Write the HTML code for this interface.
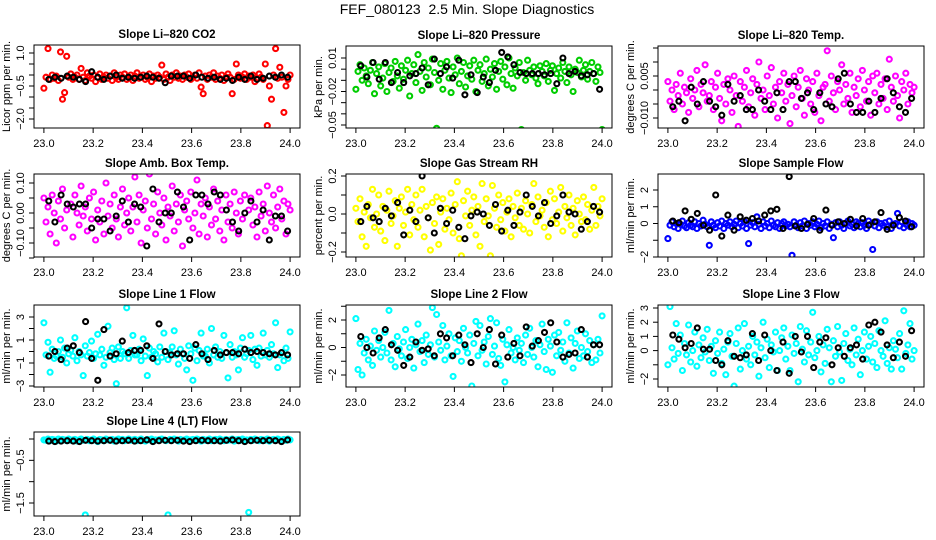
<!DOCTYPE html>
<html><head><meta charset="utf-8"><style>
html,body{margin:0;padding:0;background:#fff;}
svg{display:block;font-family:"Liberation Sans",sans-serif;}
</style></head><body>
<svg id="chart" width="936" height="540" viewBox="0 0 936 540" xmlns="http://www.w3.org/2000/svg">
<rect width="936" height="540" fill="#fff"/>
<text x="467" y="14" text-anchor="middle" font-size="14">FEF_080123&#160;&#160;2.5 Min. Slope Diagnostics</text>
</svg>
<script>
const co2Vals=[-0.6,-0.1,1.2,-0.2,0.0,-0.15,-0.05,-0.25,1.05,-1.1,-0.8,0.85,-0.1,0.05,-0.2,-0.1,0.0,-0.2,0.3,-0.1,-0.25,0.1,-0.05,-0.15,0.0,-0.3,-0.1,0.05,-0.2,-0.1,0.0,-0.15,-0.05,-0.25,0.1,-0.1,-0.2,0.0,-0.1,0.05,-0.2,-0.1,0.0,-0.25,-0.05,0.1,-0.15,-0.1,0.0,-0.2,-0.1,0.05,-0.3,-0.05,-0.15,0.0,-0.1,0.45,-0.2,0.05,-0.1,-0.25,0.0,-0.1,0.1,-0.15,-0.05,-0.2,0.0,-0.1,0.05,-0.2,-0.1,0.0,-0.15,0.1,-0.55,-0.85,-0.05,-0.2,0.0,-0.1,0.1,-0.2,-0.05,-0.15,0.0,-0.25,-0.1,0.05,-0.1,-0.85,-0.2,0.5,0.0,-0.15,-0.1,0.05,-0.2,-0.05,-0.1,0.0,-0.3,-0.15,0.05,-0.1,-0.2,0.5,-2.3,-0.5,-1.1,0.0,1.2,-0.15,0.35,-0.1,-1.7,-0.5,-0.2,0.0];
const co2Ref=[-0.2,-0.1,-0.15,-0.05,-0.1,-0.2,-0.3,0.15,-0.1,-0.2,-0.05,0.0,-0.15,-0.1,-0.15,-0.1,-0.05,-0.1,-0.15,-0.35,-0.05,-0.05,-0.05,-0.15,0.0,-0.1,-0.15,-0.1,-0.2,-0.15,-0.25,-0.1,-0.2,-0.05,-0.2,-0.15,-0.05,-0.1,0.0,-0.1];
const presVals=[-0.018,-0.002,0.004,-0.010,0.001,-0.006,-0.013,-0.001,0.006,-0.022,-0.004,0.002,-0.015,-0.008,0.005,-0.020,-0.003,0.001,-0.011,0.007,-0.006,-0.017,0.003,-0.009,-0.001,0.008,-0.024,-0.004,0.004,-0.012,0.013,-0.002,-0.019,0.006,-0.007,0.001,-0.014,0.009,-0.003,-0.053,-0.010,0.005,-0.018,-0.001,0.007,-0.008,-0.021,0.002,-0.005,0.010,-0.013,-0.002,0.006,-0.016,-0.006,0.003,-0.009,0.008,-0.020,-0.001,0.004,-0.011,-0.004,0.009,-0.015,0.000,-0.007,0.005,-0.018,-0.002,0.007,-0.009,0.002,-0.014,0.010,-0.004,-0.017,0.001,-0.006,0.006,-0.054,-0.003,-0.010,0.008,-0.001,-0.005,0.002,-0.008,-0.013,0.003,-0.002,-0.006,0.005,-0.011,-0.001,0.003,-0.019,-0.004,0.001,-0.008,0.006,-0.002,-0.012,0.002,-0.005,-0.020,0.000,-0.003,0.008,-0.007,-0.001,0.004,-0.009,-0.002,0.006,-0.004,-0.011,0.002,-0.003,-0.054];
const presRef=[0.003,-0.007,0.006,-0.009,0.006,-0.012,-0.003,-0.012,-0.006,-0.004,0.001,-0.014,0.009,-0.004,0.002,-0.008,0.008,-0.023,-0.005,-0.021,-0.007,-0.012,-0.001,0.015,0.011,0.004,-0.003,-0.004,-0.004,-0.004,-0.005,-0.004,-0.013,0.010,-0.004,-0.002,-0.006,-0.005,-0.004,-0.018];
const tempVals=[0.003,-0.004,0.000,-0.007,0.002,-0.002,0.006,-0.005,0.001,-0.001,-0.008,0.004,-0.003,0.000,0.007,-0.006,0.002,-0.001,0.009,-0.004,-0.002,0.003,-0.007,0.001,0.006,-0.003,-0.011,0.002,-0.005,0.004,0.000,-0.008,0.005,-0.002,-0.013,0.003,-0.004,0.001,0.007,-0.006,-0.001,0.004,-0.009,0.002,0.010,-0.003,0.000,-0.007,0.005,-0.002,0.008,-0.005,0.001,-0.010,0.003,-0.001,0.006,-0.004,0.002,-0.012,-0.002,0.005,-0.006,0.001,0.007,-0.003,-0.009,0.004,0.000,-0.005,0.003,-0.008,0.006,-0.002,-0.011,0.001,0.002,0.014,-0.004,0.005,-0.001,-0.007,0.003,0.000,0.009,-0.005,0.002,-0.003,0.006,-0.008,0.001,-0.002,0.004,-0.006,0.007,0.000,-0.004,0.003,-0.009,0.005,-0.001,0.006,-0.005,0.002,-0.003,0.004,-0.007,0.011,0.001,-0.004,0.005,-0.002,-0.010,0.003,0.000,0.006,-0.005,0.002,-0.001,0.001];
const tempRef=[-0.006,-0.004,-0.011,0.001,-0.005,0.003,-0.004,-0.006,-0.009,0.002,-0.004,-0.002,-0.007,-0.007,0.000,-0.004,-0.007,-0.001,-0.007,0.003,0.003,-0.003,-0.001,-0.007,-0.001,-0.005,-0.006,0.004,0.006,-0.005,-0.008,-0.008,-0.004,-0.008,-0.003,0.004,-0.001,-0.006,-0.008,-0.003];
const boxVals=[0.05,-0.03,0.02,-0.07,0.06,0.00,-0.10,0.04,-0.02,0.08,-0.05,0.01,-0.16,0.03,-0.08,0.06,0.00,-0.04,0.09,-0.01,0.02,-0.06,0.05,-0.02,0.07,-0.09,0.01,-0.03,0.04,-0.07,0.10,-0.01,0.03,-0.05,0.06,-0.02,-0.08,0.02,0.08,-0.04,0.00,0.05,-0.06,0.02,0.12,-0.03,0.06,-0.10,0.01,0.04,-0.05,0.13,-0.02,0.03,-0.07,0.07,0.00,-0.04,0.05,-0.09,0.02,-0.01,0.09,-0.06,0.03,-0.03,0.06,-0.11,0.01,0.04,-0.02,0.07,-0.05,0.00,0.11,-0.07,0.03,-0.01,0.05,-0.08,0.02,-0.04,0.08,-0.02,0.04,-0.06,0.01,-0.09,0.06,-0.03,0.03,-0.05,0.07,0.00,-0.07,0.04,-0.02,0.06,-0.16,0.01,0.05,-0.04,0.02,-0.08,0.07,-0.01,0.03,-0.06,0.09,0.00,-0.03,0.06,-0.05,0.02,0.08,-0.02,0.04,-0.07,0.03,0.01];
const boxRef=[0.04,-0.03,0.06,0.03,0.02,0.03,0.03,-0.05,-0.02,-0.02,-0.06,-0.01,0.04,-0.03,0.03,0.02,-0.11,0.08,-0.03,0.00,0.00,0.07,0.02,-0.09,0.06,0.06,0.03,0.07,0.06,0.01,-0.03,-0.06,0.00,0.04,-0.03,0.01,-0.09,-0.01,-0.01,-0.06];
const rhVals=[0.03,-0.04,0.08,-0.12,0.01,-0.17,0.05,-0.02,0.13,-0.07,0.00,0.10,-0.09,0.04,-0.14,0.02,0.12,-0.05,-0.01,0.07,-0.17,0.03,0.09,-0.06,0.01,0.13,-0.11,0.05,-0.03,0.10,-0.07,0.02,0.13,-0.12,0.04,-0.02,-0.19,0.06,-0.05,0.09,-0.16,0.01,0.08,-0.08,0.03,-0.03,0.11,-0.10,0.05,0.17,-0.13,-0.22,0.07,-0.01,0.12,-0.06,0.02,0.09,-0.11,0.04,-0.17,0.16,-0.04,0.08,-0.01,-0.22,0.15,0.03,-0.07,0.10,-0.03,0.06,-0.09,0.01,0.08,-0.12,0.04,-0.02,0.11,-0.06,0.03,-0.08,0.07,0.00,-0.10,0.05,0.16,-0.04,0.09,-0.01,0.02,-0.07,0.06,-0.12,0.12,-0.03,0.08,-0.05,0.01,0.14,-0.09,0.04,-0.02,0.10,-0.06,0.03,-0.11,0.07,0.00,-0.04,0.09,-0.03,0.05,-0.08,0.02,0.14,-0.06,0.04,-0.01,0.08];
const rhRef=[-0.04,0.04,-0.02,-0.04,0.03,-0.01,0.06,-0.11,0.02,-0.04,0.20,-0.02,-0.10,0.03,-0.05,0.02,-0.07,-0.13,-0.01,0.01,0.00,-0.06,0.05,-0.09,0.02,-0.06,0.01,0.10,0.04,-0.01,0.06,-0.05,-0.01,0.10,0.01,0.00,-0.08,-0.04,0.04,0.01];
const sampVals=[-0.9,-0.1,0.1,-0.2,0.0,-0.3,-0.05,0.15,-0.15,-0.25,0.05,-0.1,-0.2,0.1,-0.3,0.0,-0.15,0.2,-0.05,-0.2,-1.3,0.1,-0.1,-0.25,0.05,-0.15,0.15,-0.3,0.0,-0.1,0.1,-0.2,-0.05,0.15,-0.25,0.0,-0.15,0.1,-0.3,-1.2,-0.1,0.05,-0.2,0.4,-0.05,-0.3,0.1,-0.15,0.0,-0.25,0.15,-0.1,-0.2,0.05,-0.3,0.0,0.1,-0.15,-0.05,-0.2,-1.9,0.1,-0.1,-0.25,0.05,-0.15,0.15,-0.3,0.0,-0.1,0.1,-0.2,-0.05,0.15,-0.25,0.0,-0.15,0.1,-0.3,-0.05,-0.85,0.05,-0.2,0.1,-0.1,-0.3,0.0,0.15,-0.15,-0.05,-0.25,0.1,0.0,-0.2,0.05,-0.1,-0.3,0.15,-0.05,-1.55,-0.15,0.1,-0.25,0.0,-0.1,0.05,-0.2,0.15,-0.3,-0.05,0.0,0.6,-0.15,0.1,-0.25,-0.05,0.1,-0.2,0.0,-0.1];
const sampRef=[0.15,0.05,0.75,0.25,0.6,-0.1,-0.4,1.7,-0.75,0.5,-0.4,0.4,0.2,0.3,0.15,0.5,0.75,0.85,-0.3,2.8,-0.15,-0.3,-0.05,0.3,-0.4,0.8,-0.1,0.1,0.0,0.25,-0.15,0.3,-0.1,0.1,0.65,-0.35,-0.1,0.35,0.15,-0.2];
const l1Vals=[2.5,-0.3,0.8,-1.8,0.2,-0.6,-0.4,0.0,1.0,-0.5,0.3,-1.0,-0.2,0.1,-0.4,1.2,-0.8,0.0,-0.3,-2.1,0.5,-0.4,-0.1,0.9,-0.6,-0.2,1.5,-0.3,0.2,-1.2,-0.5,2.2,-0.1,0.3,-0.7,-2.8,0.4,-0.6,0.0,-0.2,3.8,-0.6,0.1,1.4,-0.3,-0.3,0.2,-0.8,1.1,-0.4,-2.1,0.3,-0.5,0.0,-0.2,-0.9,0.4,-0.5,1.6,0.0,-0.7,-0.1,0.4,1.8,-0.3,-1.1,0.2,-0.2,-0.6,-1.6,0.5,-0.2,-2.5,0.3,-0.8,0.1,1.6,-0.4,-0.4,0.2,-1.0,2.0,-0.3,0.4,-0.5,0.0,-0.6,1.4,-0.1,-2.3,0.6,-0.5,0.0,-0.3,-1.6,0.3,1.2,-0.5,-0.2,0.1,1.4,-0.7,0.2,-1.2,0.3,-0.4,1.6,-0.3,0.1,-0.5,0.6,-0.2,2.5,-1.4,-0.3,-0.1,-0.8,0.3,-0.6,1.7];
const l1Ref=[-0.4,0.0,-0.7,0.3,0.5,-0.1,2.6,-0.6,-2.5,1.9,-0.4,-0.2,0.9,-0.1,0.1,0.1,0.5,-0.6,2.4,0.0,-0.3,-0.2,-0.2,-0.6,0.6,-0.2,-0.7,0.1,-0.3,-0.1,-0.1,-0.2,0.2,-0.1,0.0,-0.1,-0.2,-0.3,-0.1,-0.3];
const l2Vals=[2.1,-1.6,0.3,-2.0,-0.4,0.6,-0.9,0.1,-1.3,1.2,-0.2,0.5,-0.7,0.0,1.1,-0.4,2.7,-0.9,0.3,-1.4,0.8,-0.1,-0.6,0.4,1.3,-0.8,0.0,0.6,-1.5,0.2,1.7,-0.3,0.5,-1.1,0.9,-0.5,0.2,2.9,-0.7,2.4,0.4,-0.2,1.6,-0.9,0.1,1.0,-0.6,-2.1,0.7,-0.3,0.5,-1.0,1.4,0.0,-0.4,0.9,-2.8,0.3,1.9,-0.6,1.6,-0.2,0.4,-1.2,0.8,2.1,-0.5,0.1,1.8,-0.8,-1.3,0.6,-2.5,0.2,1.3,-0.4,0.0,-0.9,0.7,-0.2,0.3,-1.1,0.9,-0.5,1.4,0.0,-0.7,0.5,-1.4,0.2,1.7,-0.3,-1.6,0.6,0.1,-1.8,0.9,-0.6,1.1,-0.2,0.4,-1.0,1.8,-0.4,0.7,-1.5,0.3,1.2,-0.8,0.0,-0.6,1.0,-0.3,0.5,-1.1,0.2,-0.9,0.6,-0.4,2.3];
const l2Ref=[0.8,0.0,-0.4,0.7,1.3,0.2,-0.2,-1.3,-0.7,0.4,-0.2,-0.1,-0.6,1.0,0.7,-0.6,0.9,0.2,-1.1,1.0,0.0,1.3,-1.2,0.9,-0.7,0.3,-0.6,1.5,0.1,0.5,1.1,1.8,0.4,-0.7,-0.5,-0.4,1.3,-0.7,0.2,0.2];
const l3Vals=[-1.0,3.1,0.2,-0.6,1.9,-0.2,1.1,-1.4,0.5,-0.3,1.8,-0.8,0.0,1.3,-1.1,0.4,-0.5,0.9,-0.1,1.5,-0.7,0.3,-1.6,0.7,-0.2,1.3,-0.9,0.1,-1.7,0.6,1.2,-0.4,-2.5,0.5,1.6,-1.3,0.0,1.9,-0.6,0.3,-1.0,1.0,-0.3,0.6,-1.8,0.2,2.0,-0.5,0.8,-1.2,0.4,-0.1,1.3,-1.4,0.0,0.9,1.6,-0.6,0.3,-1.4,1.1,-0.2,0.5,-2.2,1.7,0.1,-0.8,1.4,-0.3,0.6,2.7,-0.5,0.0,1.0,-1.5,0.4,-0.9,1.5,0.2,-2.2,0.7,-0.4,1.7,-0.1,-2.1,0.5,1.2,-0.7,0.1,-1.0,1.6,-0.3,0.8,-1.7,0.0,1.3,-0.6,0.3,1.0,-0.8,0.5,-1.2,1.4,0.0,-0.4,2.1,-0.9,0.2,-1.3,0.7,0.1,-0.5,1.2,-1.3,2.8,-0.2,0.4,1.9,-0.6,0.0];
const l3Ref=[1.1,0.8,0.2,0.5,1.6,0.1,0.1,-0.7,-1.0,0.7,-0.4,-0.5,-0.3,1.2,-0.7,1.1,0.0,-1.4,0.6,-1.6,1.0,-0.1,1.0,-1.2,0.6,0.9,-1.0,0.2,-0.4,0.2,0.4,-0.6,1.8,2.0,1.3,0.4,-0.5,0.6,-0.4,1.4];
const l4Vals=[-0.02,-0.03,0.0,-0.04,-0.01,-0.02,-0.05,0.0,-0.03,-0.01,-0.02,-0.04,0.0,-0.03,-0.02,-0.01,-0.05,-0.02,0.0,-0.03,-1.78,-0.01,-0.04,-0.02,0.0,-0.03,-0.06,-0.01,-0.02,-0.04,0.0,-0.02,-0.03,-0.01,-0.05,-0.02,0.0,-0.03,-0.01,-0.04,-0.02,0.0,-0.03,-0.02,-0.01,-0.04,-0.02,0.0,-0.03,-0.05,-0.01,-0.02,0.0,-0.04,-0.02,-0.03,-0.01,0.0,-0.02,-0.04,-1.78,-0.01,-0.03,0.0,-0.02,-0.05,-0.01,-0.03,-0.02,0.0,-0.04,-0.02,-0.01,-0.03,0.0,-0.02,-0.05,-0.01,-0.03,-0.02,0.0,-0.04,-0.02,-0.01,-0.03,0.0,-0.02,-0.04,-0.01,-0.03,-0.02,0.0,-0.05,-0.02,-0.01,-0.03,0.0,-0.04,-0.02,-1.72,-0.01,-0.03,0.0,-0.02,-0.04,-0.01,-0.02,-0.03,0.0,-0.05,-0.02,-0.01,-0.03,0.0,-0.02,-0.04,-0.01,-0.03,0.0,-0.02];
const l4Ref=[-0.05,-0.06,-0.05,-0.04,-0.05,-0.06,-0.03,-0.04,-0.05,-0.04,-0.03,-0.05,-0.04,-0.03,-0.05,-0.04,-0.02,-0.06,-0.04,-0.03,-0.04,-0.03,-0.05,-0.06,-0.04,-0.03,-0.04,-0.04,-0.05,-0.03,-0.02,-0.04,-0.06,-0.04,-0.03,-0.04,-0.03,-0.04,-0.06,-0.02];
const xTicks=[23.0,23.2,23.4,23.6,23.8,24.0];
const xTickLabels=["23.0","23.2","23.4","23.6","23.8","24.0"];

const panels=[
 {name:"li820-co2",title:"Slope Li\u2013820 CO2",ylab:"Licor ppm per min.",vals:co2Vals,ref:co2Ref,col:"#ff0000",box:[34,45,300,128],a:[1.0,53],b:[-2.0,119],ticks:[-2,-1.5,-1,-0.5,0,0.5,1],labels:{"1":"1.0","-0.5":"\u22120.5","-2":"\u22122.0"}},
 {name:"li820-pressure",title:"Slope Li\u2013820 Pressure",ylab:"kPa per min.",vals:presVals,ref:presRef,col:"#00cd00",box:[346,46,612,128],a:[0.01,58],b:[-0.05,125],ticks:[-0.05,-0.04,-0.03,-0.02,-0.01,0,0.01],labels:{"0.01":"0.01","-0.02":"\u22120.02","-0.05":"\u22120.05"}},
 {name:"li820-temp",title:"Slope Li\u2013820 Temp.",ylab:"degrees C per min.",vals:tempVals,ref:tempRef,col:"#ff00ff",box:[658,46,924,128],a:[0.005,76],b:[-0.010,118],ticks:[-0.01,-0.005,0,0.005,0.01,0.015],labels:{"0.005":"0.005","-0.01":"\u22120.010"}},
 {name:"amb-box-temp",title:"Slope Amb. Box Temp.",ylab:"degrees C per min.",vals:boxVals,ref:boxRef,col:"#ff00ff",box:[34,174,300,257],a:[0.10,183],b:[-0.10,243],ticks:[-0.15,-0.1,-0.05,0,0.05,0.1],labels:{"0.1":"0.10","0":"0.00","-0.1":"\u22120.10"}},
 {name:"gas-stream-rh",title:"Slope Gas Stream RH",ylab:"percent per min.",vals:rhVals,ref:rhRef,col:"#ffff00",box:[346,174,612,257],a:[0.2,176],b:[-0.2,252],ticks:[-0.2,-0.1,0,0.1,0.2],labels:{"0.2":"0.2","0":"0.0","-0.2":"\u22120.2"}},
 {name:"sample-flow",title:"Slope Sample Flow",ylab:"ml/min per min.",vals:sampVals,ref:sampRef,col:"#0000ff",box:[658,174,924,257],a:[2,190],b:[-2,257],ticks:[-2,-1,0,1,2],labels:{"2":"2","1":"1","0":"0","-2":"\u22122"}},
 {name:"line1-flow",title:"Slope Line 1 Flow",ylab:"ml/min per min.",vals:l1Vals,ref:l1Ref,col:"#00ffff",box:[34,305,300,387],a:[3,317],b:[-3,386],ticks:[-3,-2,-1,0,1,2,3],labels:{"3":"3","1":"1","-1":"\u22121","-3":"\u22123"}},
 {name:"line2-flow",title:"Slope Line 2 Flow",ylab:"ml/min per min.",vals:l2Vals,ref:l2Ref,col:"#00ffff",box:[346,305,612,387],a:[2,320],b:[-2,375],ticks:[-2,-1,0,1,2,3],labels:{"2":"2","0":"0","-2":"\u22122"}},
 {name:"line3-flow",title:"Slope Line 3 Flow",ylab:"ml/min per min.",vals:l3Vals,ref:l3Ref,col:"#00ffff",box:[658,305,924,387],a:[3,308],b:[-2,379],ticks:[-2,-1,0,1,2,3],labels:{"3":"3","2":"2","1":"1","0":"0","-2":"\u22122"}},
 {name:"line4-lt-flow",title:"Slope Line 4 (LT) Flow",ylab:"ml/min per min.",vals:l4Vals,ref:l4Ref,col:"#00ffff",box:[34,432,300,516],a:[0,439],b:[-1.5,503],ticks:[-1.5,-1,-0.5,0],labels:{"-0.5":"\u22120.5","-1.5":"\u22121.5"}}
];
const NS="http://www.w3.org/2000/svg";
const svg=document.getElementById("chart");
function mk(tag,attrs,parent){const e=document.createElementNS(NS,tag);for(const k in attrs)e.setAttribute(k,attrs[k]);(parent||svg).appendChild(e);return e;}
panels.forEach(p=>{
  const [L,T,R,B]=p.box;
  const g=mk("g",{});
  
  
  const xs=v=>(L+9.9)+(v-23)*((R-L)-19.8);
  const ys=v=>p.a[1]+(v-p.a[0])*(p.b[1]-p.a[1])/(p.b[0]-p.a[0]);
  const clip="clip-"+p.name;
  const cp=mk("clipPath",{id:clip},g);mk("rect",{x:L,y:T,width:R-L,height:B-T},cp);
  const pts=mk("g",{"clip-path":"url(#"+clip+")",fill:"none","stroke-width":"2.1"},g);
  
  
  const n=p.vals.length;
  p.vals.forEach((v,i)=>{
    const c=mk("circle",{cx:xs(23+i/(n-1)).toFixed(1),cy:ys(v).toFixed(1),r:"2.5",stroke:p.col},pts);
    
    
  });
  const m=p.ref.length;
  p.ref.forEach((v,i)=>{
    const c=mk("circle",{cx:xs(23.02+i*0.97/(m-1)).toFixed(1),cy:ys(v).toFixed(1),r:"2.5",stroke:"#000"},pts);
    
    
  });
  const fr=mk("rect",{x:L,y:T,width:R-L,height:B-T,fill:"none",stroke:"#000","stroke-width":"1"},g);
  
  
  const t=mk("text",{x:(L+R)/2,y:T-7,"text-anchor":"middle","font-size":"11.5","font-weight":"bold"},g);
  t.textContent=p.title;
  
  
  mk("line",{x1:xs(xTicks[0]),x2:xs(xTicks[xTicks.length-1]),y1:B,y2:B,stroke:"#000"},g);
  xTicks.forEach((v,i)=>{
    mk("line",{x1:xs(v),x2:xs(v),y1:B,y2:B+5,stroke:"#000"},g);
    const tl=mk("text",{x:xs(v),y:B+19,"text-anchor":"middle","font-size":"11"},g);
    tl.textContent=xTickLabels[i];
    
    
  });
  const tmin=p.ticks[0],tmax=p.ticks[p.ticks.length-1];
  mk("line",{x1:L,x2:L,y1:ys(tmin),y2:ys(tmax),stroke:"#000"},g);
  p.ticks.forEach(v=>{
    const y=ys(v);
    mk("line",{x1:L-5,x2:L,y1:y,y2:y,stroke:"#000"},g);
    const key=String(+v.toFixed(4));
    if(p.labels[key]!==undefined){
      const tl=mk("text",{x:0,y:0,"text-anchor":"middle","font-size":"11",transform:"translate("+(L-10)+","+y.toFixed(1)+") rotate(-90)"},g);
      tl.textContent=p.labels[key];
      
      
    }
  });
  const yl=mk("text",{x:0,y:0,"text-anchor":"middle","font-size":"11",transform:"translate("+(L-24)+","+((T+B)/2)+") rotate(-90)"},g);
  yl.textContent=p.ylab;
  
  
});
</script>
</body></html>
